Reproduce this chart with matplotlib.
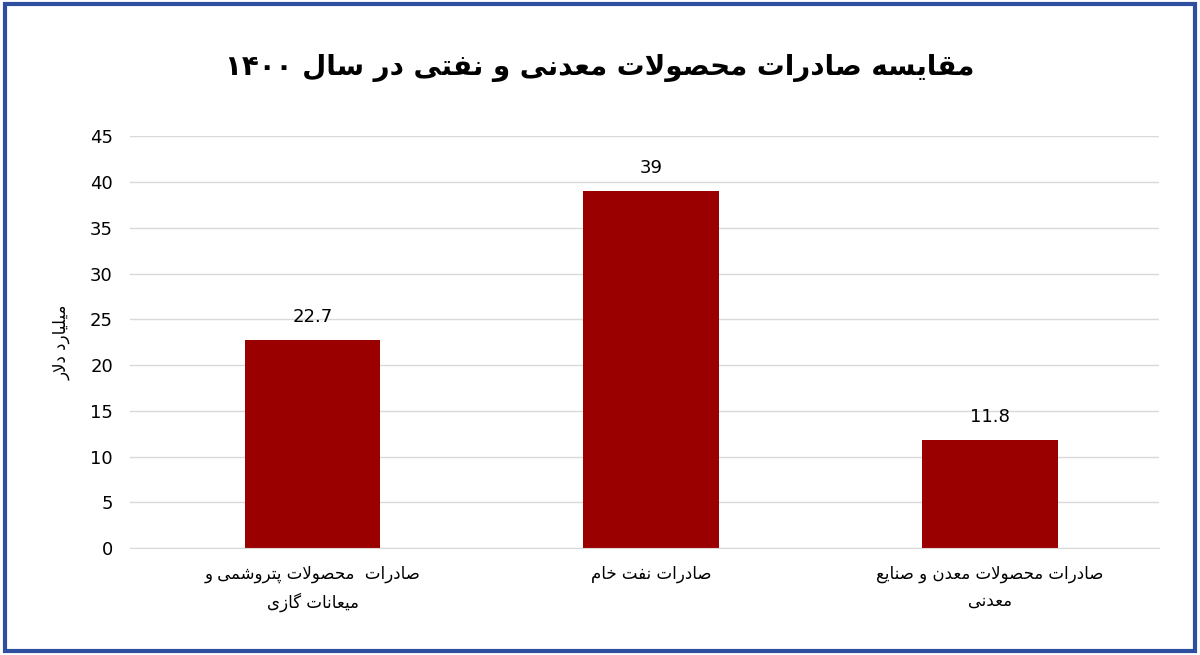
import matplotlib
matplotlib.use("Agg")
import matplotlib.pyplot as plt
from matplotlib.patches import Rectangle

title = "مقایسه صادرات محصولات معدنی و نفتی در سال ۱۴۰۰"
ylabel = "میلیارد دلار"
categories = ["صادرات  محصولات پتروشمی و\nمیعانات گازی", "صادرات نفت خام", "صادرات محصولات معدن و صنایع\nمعدنی"]
values = [22.7, 39, 11.8]
value_labels = ["22.7", "39", "11.8"]

FORMS = {
 'ا':(0xFE8D,0xFE8E,None,None),'آ':(0xFE81,0xFE82,None,None),
 'ب':(0xFE8F,0xFE90,0xFE91,0xFE92),'ت':(0xFE95,0xFE96,0xFE97,0xFE98),
 'ث':(0xFE99,0xFE9A,0xFE9B,0xFE9C),'ج':(0xFE9D,0xFE9E,0xFE9F,0xFEA0),
 'ح':(0xFEA1,0xFEA2,0xFEA3,0xFEA4),'خ':(0xFEA5,0xFEA6,0xFEA7,0xFEA8),
 'د':(0xFEA9,0xFEAA,None,None),'ذ':(0xFEAB,0xFEAC,None,None),
 'ر':(0xFEAD,0xFEAE,None,None),'ز':(0xFEAF,0xFEB0,None,None),
 'ژ':(0xFB8A,0xFB8B,None,None),
 'س':(0xFEB1,0xFEB2,0xFEB3,0xFEB4),'ش':(0xFEB5,0xFEB6,0xFEB7,0xFEB8),
 'ص':(0xFEB9,0xFEBA,0xFEBB,0xFEBC),'ض':(0xFEBD,0xFEBE,0xFEBF,0xFEC0),
 'ط':(0xFEC1,0xFEC2,0xFEC3,0xFEC4),'ظ':(0xFEC5,0xFEC6,0xFEC7,0xFEC8),
 'ع':(0xFEC9,0xFECA,0xFECB,0xFECC),'غ':(0xFECD,0xFECE,0xFECF,0xFED0),
 'ف':(0xFED1,0xFED2,0xFED3,0xFED4),'ق':(0xFED5,0xFED6,0xFED7,0xFED8),
 'ک':(0xFB8E,0xFB8F,0xFB90,0xFB91),'گ':(0xFB92,0xFB93,0xFB94,0xFB95),
 'ل':(0xFEDD,0xFEDE,0xFEDF,0xFEE0),'م':(0xFEE1,0xFEE2,0xFEE3,0xFEE4),
 'ن':(0xFEE5,0xFEE6,0xFEE7,0xFEE8),'ه':(0xFEE9,0xFEEA,0xFEEB,0xFEEC),
 'و':(0xFEED,0xFEEE,None,None),'ی':(0xFBFC,0xFBFD,0xFBFE,0xFBFF),
 'پ':(0xFB56,0xFB57,0xFB58,0xFB59),'چ':(0xFB7A,0xFB7B,0xFB7C,0xFB7D),
}

def shape_word(w):
    w = w.replace('لا', '\uFEFB')
    out = []
    n = len(w)
    for i, c in enumerate(w):
        if c == '\uFEFB':
            prev = w[i-1] if i > 0 else None
            if prev in FORMS and FORMS[prev][2] is not None:
                out.append('\uFEFC')
            else:
                out.append('\uFEFB')
            continue
        if c not in FORMS:
            out.append(c); continue
        prev = w[i-1] if i > 0 else None
        nxt = w[i+1] if i < n-1 else None
        jp = prev in FORMS and FORMS[prev][2] is not None
        jn = (nxt in FORMS or nxt == '\uFEFB') and FORMS[c][2] is not None
        iso, fin, ini, med = FORMS[c]
        if jp and jn: out.append(chr(med))
        elif jp: out.append(chr(fin))
        elif jn: out.append(chr(ini))
        else: out.append(chr(iso))
    s = ''.join(out)
    if all(ch in '۰۱۲۳۴۵۶۷۸۹0123456789' for ch in w):
        return w
    return s[::-1]

def fa(text):
    lines = []
    for line in text.split('\n'):
        words = line.split(' ')
        lines.append(' '.join(shape_word(x) for x in words[::-1]))
    return '\n'.join(lines)

plt.rcParams['font.family'] = ['DejaVu Sans']
fig = plt.figure(figsize=(12, 6.55), dpi=100)
ax = fig.add_axes([0.108, 0.163, 0.858, 0.629])
x = range(len(values))
ax.bar(x, values, width=0.4, color='#9A0000')
for xi, v, lab in zip(x, values, value_labels):
    ax.text(xi, v + 1.6, lab, ha='center', va='bottom', fontsize=13)
ax.set_ylim(0, 45)
ax.set_xlim(-0.54, 2.5)
ax.set_yticks(range(0, 46, 5))
ax.tick_params(axis='y', labelsize=13, length=0, pad=12)
ax.tick_params(axis='x', length=0, labelsize=12, pad=12)
ax.set_xticks(list(x))
ax.set_xticklabels([fa(c) for c in categories], linespacing=1.6)
ax.grid(axis='y', color='#d9d9d9', lw=1)
ax.set_axisbelow(True)
for s in ['top', 'right', 'left']:
    ax.spines[s].set_visible(False)
ax.spines['bottom'].set_color('#d9d9d9')
ax.set_ylabel(fa(ylabel), fontsize=12, labelpad=14)
fig.text(0.5, 0.896, fa(title), ha='center', va='center', fontsize=20, fontweight='bold')
fig.patches.append(Rectangle((0.004, 0.006), 0.992, 0.988, transform=fig.transFigure,
                             fill=False, edgecolor='#2E4E9E', lw=3))
fig.savefig('out.png', dpi=100)
